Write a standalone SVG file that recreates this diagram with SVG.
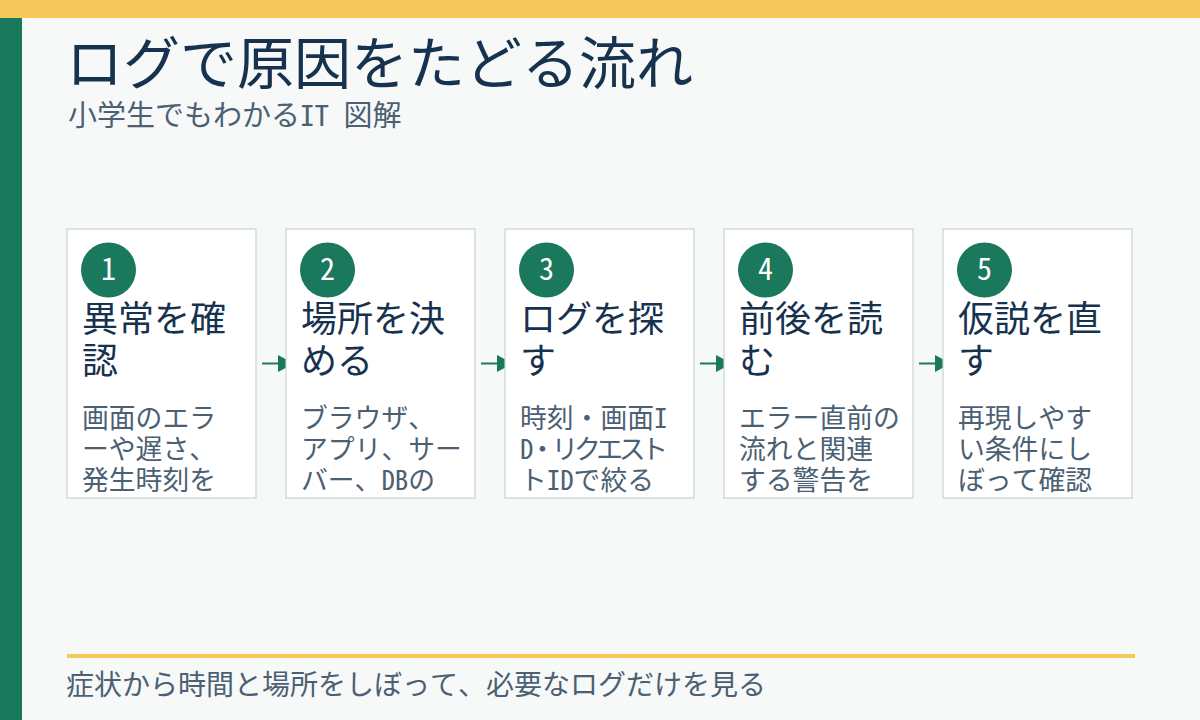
<svg xmlns="http://www.w3.org/2000/svg" width="1200" height="720" viewBox="0 0 1200 720">
<style>
text{font-family:"Noto Sans Mono CJK JP","Noto Sans CJK JP",sans-serif}
.title{font-size:57px;fill:#17324f}
.sub{font-size:29px;fill:#4b6073}
.card{fill:#ffffff;stroke:#c3d6d1;stroke-width:1.2}
.badge{fill:#1a785c}
.num{font-size:30px;fill:#ffffff;text-anchor:middle}
.head{font-size:36px;fill:#17324f}
.body{font-size:26.8px;fill:#4b6073}
.conn{stroke:#1a785c;stroke-width:2;fill:none}
.head-arrow{fill:#1a785c}
.foot{font-size:28px;fill:#4b6073}
</style>
<rect x="0" y="0" width="1200" height="720" fill="#f7f9f9"/>
<rect x="0" y="0" width="1200" height="18" fill="#f5c95c"/>
<rect x="0" y="18" width="22" height="702" fill="#1a785c"/>
<text class="title" x="66" y="84">ログで原因をたどる流れ</text>
<text class="sub" x="68" y="126">小学生でもわかるIT 図解</text>
<g id="connectors">
<line class="conn" x1="262" y1="363.5" x2="280" y2="363.5"/>
<polygon class="head-arrow" points="278,355 278,372 294,363.5"/>
<line class="conn" x1="481" y1="363.5" x2="499" y2="363.5"/>
<polygon class="head-arrow" points="497,355 497,372 513,363.5"/>
<line class="conn" x1="700" y1="363.5" x2="718" y2="363.5"/>
<polygon class="head-arrow" points="716,355 716,372 732,363.5"/>
<line class="conn" x1="919" y1="363.5" x2="937" y2="363.5"/>
<polygon class="head-arrow" points="935,355 935,372 951,363.5"/>
</g>
<g id="step1">
<rect class="card" x="67" y="229" width="189" height="269"/>
<circle class="badge" cx="108.5" cy="270" r="27.5"/>
<text class="num" x="108.5" y="280">1</text>
<text class="head" x="82" y="332">異常を確</text>
<text class="head" x="82" y="374">認</text>
<text class="body" x="82" y="428">画面のエラ</text>
<text class="body" x="82" y="459">ーや遅さ、</text>
<text class="body" x="82" y="490">発生時刻を</text>
</g>
<g id="step2">
<rect class="card" x="286" y="229" width="189" height="269"/>
<circle class="badge" cx="327.5" cy="270" r="27.5"/>
<text class="num" x="327.5" y="280">2</text>
<text class="head" x="301" y="332">場所を決</text>
<text class="head" x="301" y="374">める</text>
<text class="body" x="301" y="428">ブラウザ、</text>
<text class="body" x="301" y="459">アプリ、サー</text>
<text class="body" x="301" y="490">バー、DBの</text>
</g>
<g id="step3">
<rect class="card" x="505" y="229" width="189" height="269"/>
<circle class="badge" cx="546.5" cy="270" r="27.5"/>
<text class="num" x="546.5" y="280">3</text>
<text class="head" x="520" y="332">ログを探</text>
<text class="head" x="520" y="374">す</text>
<text class="body" x="520" y="428">時刻・画面I</text>
<text class="body" x="520" y="459" textLength="148" lengthAdjust="spacing">D・リクエスト</text>
<text class="body" x="520" y="490">トIDで絞る</text>
</g>
<g id="step4">
<rect class="card" x="724" y="229" width="189" height="269"/>
<circle class="badge" cx="765.5" cy="270" r="27.5"/>
<text class="num" x="765.5" y="280">4</text>
<text class="head" x="739" y="332">前後を読</text>
<text class="head" x="739" y="374">む</text>
<text class="body" x="739" y="428">エラー直前の</text>
<text class="body" x="739" y="459">流れと関連</text>
<text class="body" x="739" y="490">する警告を</text>
</g>
<g id="step5">
<rect class="card" x="943" y="229" width="189" height="269"/>
<circle class="badge" cx="984.5" cy="270" r="27.5"/>
<text class="num" x="984.5" y="280">5</text>
<text class="head" x="958" y="332">仮説を直</text>
<text class="head" x="958" y="374">す</text>
<text class="body" x="958" y="428">再現しやす</text>
<text class="body" x="958" y="459">い条件にし</text>
<text class="body" x="958" y="490">ぼって確認</text>
</g>
<rect x="67" y="654" width="1068" height="4" fill="#f5c95c"/>
<text class="foot" x="66" y="695">症状から時間と場所をしぼって、必要なログだけを見る</text>
</svg>
